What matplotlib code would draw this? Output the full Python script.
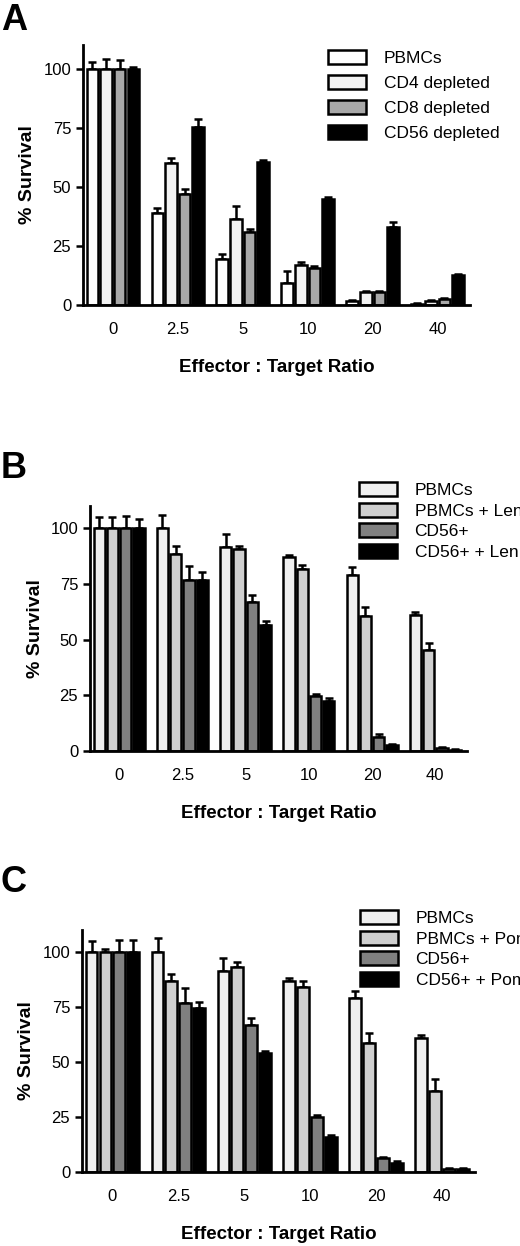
import matplotlib
matplotlib.use("Agg")
import matplotlib.pyplot as plt
import numpy as np
from matplotlib.patches import Patch

plt.rcParams['font.family'] = ['Liberation Sans', 'DejaVu Sans']

ratios = ["0", "2.5", "5", "10", "20", "40"]

a_labels = ["PBMCs", "CD4 depleted", "CD8 depleted", "CD56 depleted"]
a_vals = [[100, 39, 19.5, 9.5, 1.5, 0.5],
          [100, 60, 36.5, 17, 5.5, 1.5],
          [100, 47, 31, 15.5, 5.5, 2.5],
          [100, 75.5, 60.5, 45, 33, 12.5]]
a_err = [[3, 2, 2, 5, 0.5, 0.5],
         [4, 2, 5.5, 1, 0.5, 0.5],
         [3.5, 2, 1, 1, 0.5, 0.5],
         [0.5, 3, 1, 0.5, 2, 0.5]]

b_labels = ["PBMCs", "PBMCs + Len", "CD56+", "CD56+ + Len"]
b_vals = [[100, 100, 91.5, 87, 79, 61],
          [100, 88.5, 90.5, 81.5, 60.5, 45.5],
          [100, 77, 67, 24.5, 6.5, 1.5],
          [100, 77, 56.5, 22.5, 2.5, 0.5]]
b_err = [[5, 6, 6, 1, 3.5, 1.5],
         [5, 3.5, 1.5, 2, 4, 3],
         [5.5, 6, 3, 1, 1, 0.5],
         [4, 3.5, 2, 1.5, 0.5, 0.3]]

c_labels = ["PBMCs", "PBMCs + Pom", "CD56+", "CD56+ + Pom"]
c_vals = [[100, 100, 91.5, 87, 79, 61],
          [100, 87, 93, 84, 58.5, 37],
          [100, 77, 67, 25, 6.5, 1.5],
          [100, 74.5, 54, 16, 4, 1.5]]
c_err = [[5, 6.5, 6, 1, 3.5, 1.5],
         [1.5, 3, 2.5, 3, 4.5, 5.5],
         [5.5, 6.5, 3, 1, 0.5, 0.5],
         [5.5, 3, 1, 1, 1, 0.5]]

a_colors = ["white", "#f2f2f2", "#a8a8a8", "black"]
bc_colors = ["#efefef", "#cfcfcf", "#808080", "black"]

W, H = 520, 1246
fig = plt.figure(figsize=(W/100, H/100), dpi=100)

def px(l, r, top, bot):
    return [l/W, 1-bot/H, (r-l)/W, (bot-top)/H]

def panel(rect, letter, letter_xy, labels, vals, errs, colors, leg_xy, leg_gap):
    ax = fig.add_axes(rect)
    x = np.arange(len(ratios))
    bw = 0.21
    for i, (v, e, c) in enumerate(zip(vals, errs, colors)):
        pos = x + (i - 1.5) * bw
        ax.bar(pos, v, width=bw * 0.85, color=c, edgecolor="black", linewidth=1.8, zorder=2)
        ax.errorbar(pos, v, yerr=[np.zeros(len(e)), e], fmt="none", ecolor="black",
                    elinewidth=1.8, capsize=3, capthick=1.8, zorder=1)
    ax.set_xlim(-0.46, 5.5)
    ax.set_ylim(0, 110)
    ax.set_yticks([0, 25, 50, 75, 100])
    ax.set_xticks(x)
    ax.set_xticklabels(ratios)
    ax.tick_params(axis="x", length=0, pad=12, labelsize=12)
    ax.tick_params(axis="y", width=1.8, length=5, labelsize=12)
    for s in ["top", "right"]:
        ax.spines[s].set_visible(False)
    for s in ["left", "bottom"]:
        ax.spines[s].set_linewidth(2)
    ax.set_ylabel("% Survival", fontsize=14, fontweight="bold", labelpad=5)
    ax.set_xlabel("Effector : Target Ratio", fontsize=13.5, fontweight="bold", labelpad=16)
    fig.text(letter_xy[0]/W, 1-letter_xy[1]/H, letter, fontsize=26, fontweight="bold",
             va="center", ha="left")
    handles = [Patch(facecolor=c, edgecolor="black", linewidth=1.8) for c in colors]
    fig.legend(handles, labels, loc="upper left",
               bbox_to_anchor=(leg_xy[0]/W, 1-leg_xy[1]/H), frameon=False,
               fontsize=12.5, handlelength=2.2, handleheight=0.9, labelspacing=leg_gap,
               handletextpad=1.0, borderaxespad=0, borderpad=0)
    return ax

panel(px(83, 470, 45, 305), "A", (1, 20), a_labels, a_vals, a_err, a_colors, (328, 50), 0.5)
panel(px(90, 467, 506, 751), "B", (1, 468), b_labels, b_vals, b_err, bc_colors, (359, 482), 0.25)
panel(px(82, 475, 930, 1172), "C", (1, 882), c_labels, c_vals, c_err, bc_colors, (360, 910), 0.25)

fig.savefig("out.png", dpi=100)
